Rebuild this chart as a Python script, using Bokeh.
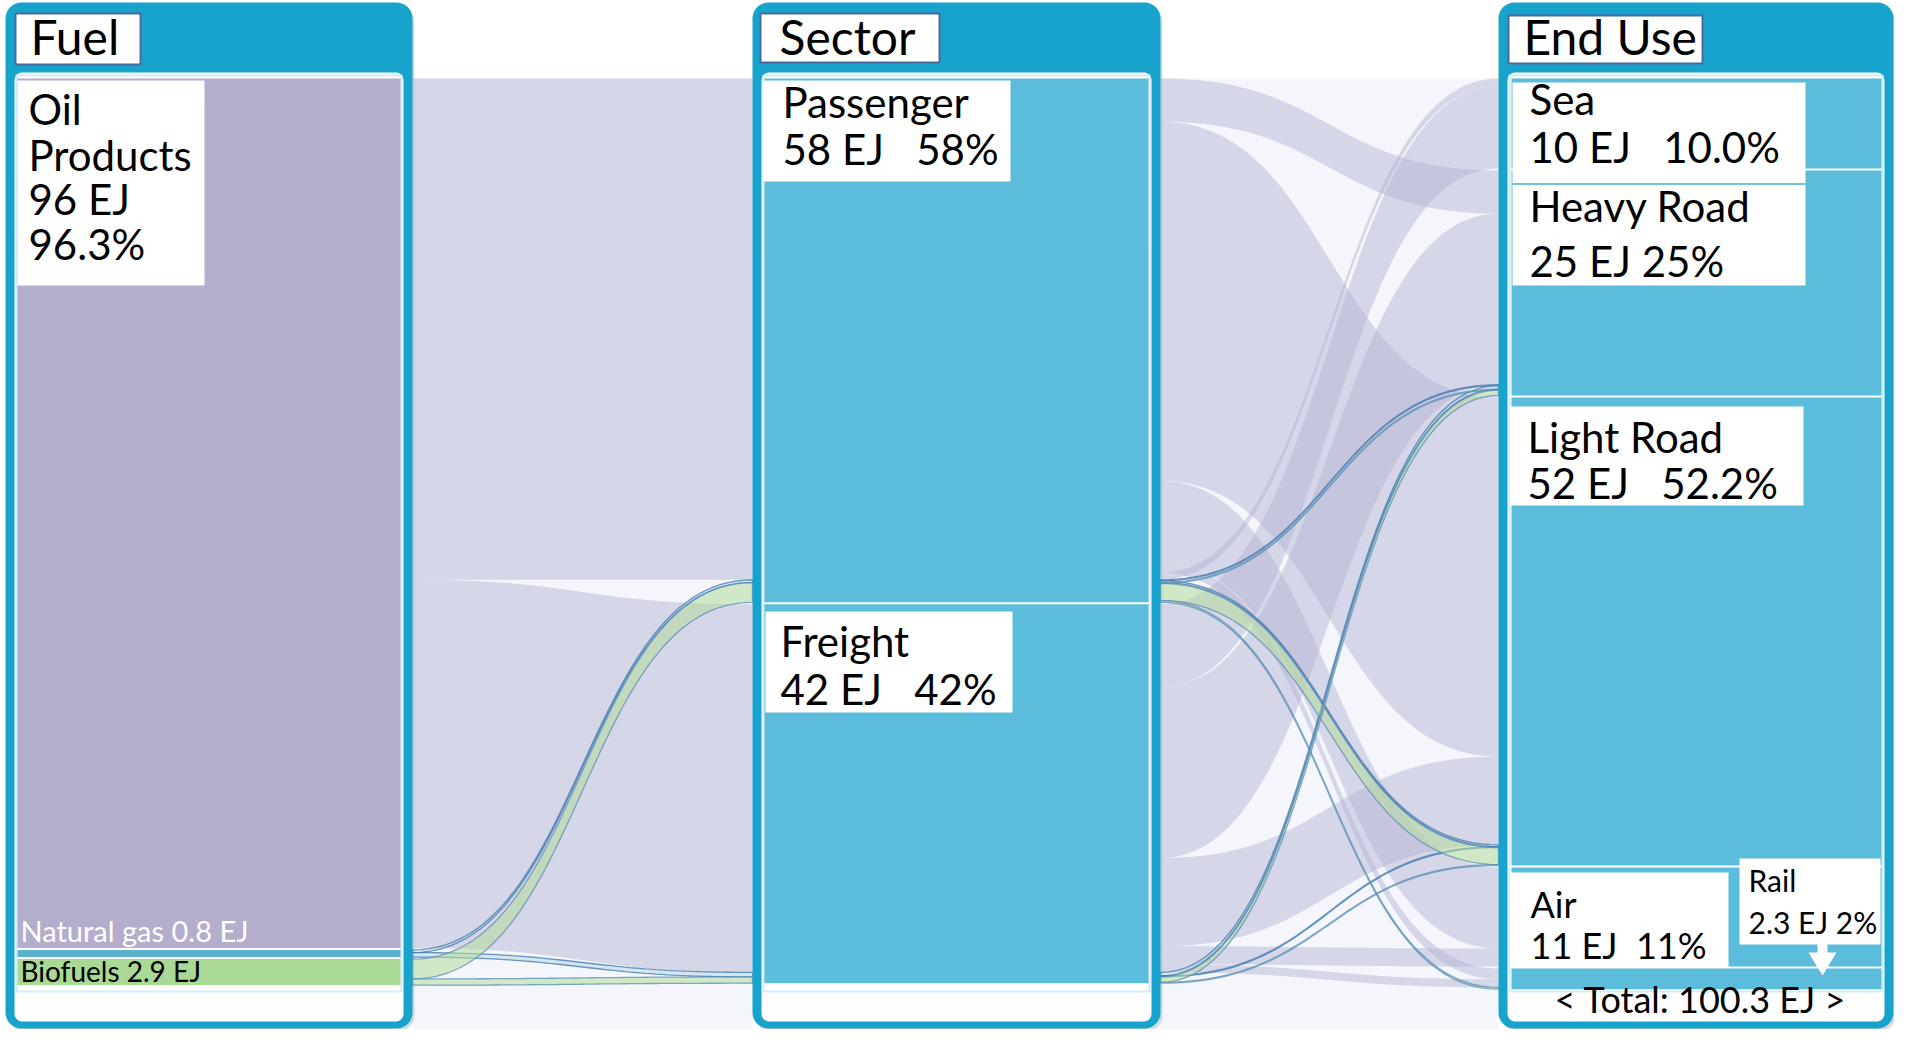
import numpy as np
from bokeh.plotting import figure
from bokeh.models import Range1d
from bokeh.core.properties import value
from bokeh.embed import file_html
from bokeh.resources import INLINE

# ---------------- data ----------------
fuels = ["Oil Products", "Natural gas", "Biofuels"]
fuel_ej = [96.6, 0.8, 2.9]
sectors = ["Passenger", "Freight"]
sector_ej = [58.2, 42.1]
end_uses = ["Sea", "Heavy Road", "Light Road", "Air", "Rail"]
end_use_ej = [10.0, 25.0, 52.0, 11.0, 2.3]

# fuel -> sector
flow1_fuel = ["Oil Products", "Oil Products", "Natural gas", "Natural gas", "Biofuels", "Biofuels"]
flow1_sector = ["Passenger", "Freight", "Passenger", "Freight", "Passenger", "Freight"]
flow1_ej = [55.7, 40.9, 0.3, 0.5, 2.2, 0.7]

# sector -> end use (traced by fuel)
flow2_fuel = ["Oil Products"] * 5 + ["Natural gas"] * 2 + ["Biofuels"] * 3 + \
             ["Oil Products"] * 5 + ["Natural gas"] * 2 + ["Biofuels"] * 2
flow2_sector = ["Passenger"] * 10 + ["Freight"] * 9
flow2_end = ["Sea", "Heavy Road", "Light Road", "Air", "Rail",
             "Heavy Road", "Light Road",
             "Heavy Road", "Light Road", "Rail",
             "Sea", "Heavy Road", "Light Road", "Air", "Rail",
             "Heavy Road", "Light Road",
             "Heavy Road", "Light Road"]
flow2_ej = [0.8, 4.8, 39.9, 9.0, 1.2,
            0.1, 0.2,
            0.1, 1.9, 0.2,
            9.2, 19.0, 9.8, 2.0, 0.9,
            0.4, 0.1,
            0.6, 0.1]

NB = "\u00a0"
column_titles = ["Fuel", "Sector", "End Use"]
oil_label = ["Oil", "Products", "96 EJ", "96.3%"]
gas_label = "Natural gas 0.8 EJ"
bio_label = "Biofuels 2.9 EJ"
passenger_label = ["Passenger", "58 EJ" + NB * 3 + "58%"]
freight_label = ["Freight", "42 EJ" + NB * 3 + "42%"]
sea_label = ["Sea", "10 EJ" + NB * 3 + "10.0%"]
heavy_label = ["Heavy Road", "25 EJ 25%"]
light_label = ["Light Road", "52 EJ" + NB * 3 + "52.2%"]
air_label = ["Air", "11 EJ" + NB * 2 + "11%"]
rail_label = ["Rail", "2.3 EJ 2%"]

# ---------------- layout / style ----------------
K = 9.0      # px per EJ
TOP = 78
GAP = 2
FONT = value("Lato")
W, H = 1894, 1029

PANEL_BLUE = "#17A3CB"
NODE_BLUE = "#5BBCDB"
fuel_node_color = {"Oil Products": "#B4ADCB", "Natural gas": "#5AB2CC", "Biofuels": "#A9D995"}
rib_fill = {"Oil Products": "#B6B6D4", "Natural gas": "#A8D4E4", "Biofuels": "#B4DC9C"}
rib_alpha = {"Oil Products": 0.51, "Natural gas": 0.45, "Biofuels": 0.55}
rib_line = {"Oil Products": None, "Natural gas": "#3C74AC", "Biofuels": "#5A8CB8"}

out_order = {"Passenger": ["Heavy Road", "Light Road", "Air", "Rail", "Sea"],
             "Freight": ["Sea", "Heavy Road", "Light Road", "Air", "Rail"]}


def stack(names, vals):
    pos = {}
    y = TOP
    for n, v in zip(names, vals):
        pos[n] = [y, y + v * K]
        y += v * K + GAP
    return pos


fuel_pos = stack(fuels, fuel_ej)
sector_pos = stack(sectors, sector_ej)
end_pos = stack(end_uses, end_use_ej)


def ribbon(x0, x1, a0, a1, b0, b1, n=60):
    t = np.linspace(0, 1, n)
    xm = (x0 + x1) / 2
    bx = (1 - t) ** 3 * x0 + 3 * (1 - t) ** 2 * t * xm + 3 * (1 - t) * t ** 2 * xm + t ** 3 * x1

    def by(ya, yb):
        return (1 - t) ** 3 * ya + 3 * (1 - t) ** 2 * t * ya + 3 * (1 - t) * t ** 2 * yb + t ** 3 * yb
    top = by(a0, b0)
    bot = by(a1, b1)
    return list(bx) + list(bx[::-1]), list(top) + list(bot[::-1])


def rrect(x0, y0, x1, y1, r, n=10):
    xs, ys = [], []
    for cx, cy, a in [(x1 - r, y0 + r, -np.pi / 2), (x1 - r, y1 - r, 0),
                      (x0 + r, y1 - r, np.pi / 2), (x0 + r, y0 + r, np.pi)]:
        for ang in np.linspace(a, a + np.pi / 2, n):
            xs.append(cx + r * np.cos(ang))
            ys.append(cy + r * np.sin(ang))
    return xs, ys


p = figure(width=W, height=H, x_range=Range1d(0, W), y_range=Range1d(H, 0),
           output_backend="svg", toolbar_location=None, x_axis_location=None,
           y_axis_location=None, min_border=0, outline_line_color=None,
           background_fill_color="white", border_fill_color="white")
p.grid.visible = False

PB = 1028  # panel bottom
# light background between panels
p.quad(left=[412, 1160], right=[752, 1498], top=[78, 78], bottom=[H, H],
       fill_color="#F4F6FB", line_color=None)

panels = [(5, 412), (752, 1160), (1498, 1893)]

# shadows
for (l, r) in panels:
    xs, ys = rrect(l + 3, 6, r + 2, PB + 3, 16)
    p.patch(xs, ys, fill_color="#7A8896", fill_alpha=0.3, line_color=None)


# ---------------- ribbons ----------------
def draw_ribbons(flows):
    for fuel in fuels:
        xs_all = [xs for (f, xs, ys) in flows if f == fuel]
        ys_all = [ys for (f, xs, ys) in flows if f == fuel]
        if not xs_all:
            continue
        lc = rib_line[fuel]
        if lc is None:
            p.patches(xs_all, ys_all, fill_color=rib_fill[fuel], fill_alpha=rib_alpha[fuel], line_color=None)
        else:
            p.patches(xs_all, ys_all, fill_color=rib_fill[fuel], fill_alpha=rib_alpha[fuel],
                      line_color=lc, line_alpha=0.75, line_width=1.3)


# stage 1
src_off = {f: fuel_pos[f][0] for f in fuels}
tgt_off = {s: sector_pos[s][0] for s in sectors}
src_y, tgt_y = {}, {}
idx1 = list(range(len(flow1_ej)))
for i in sorted(idx1, key=lambda i: (fuels.index(flow1_fuel[i]), sectors.index(flow1_sector[i]))):
    h = flow1_ej[i] * K
    f = flow1_fuel[i]
    src_y[i] = (src_off[f], src_off[f] + h)
    src_off[f] += h
for i in sorted(idx1, key=lambda i: (sectors.index(flow1_sector[i]), fuels.index(flow1_fuel[i]))):
    h = flow1_ej[i] * K
    s = flow1_sector[i]
    tgt_y[i] = (tgt_off[s], tgt_off[s] + h)
    tgt_off[s] += h
flows1 = []
for i in idx1:
    xs, ys = ribbon(412, 752, src_y[i][0], src_y[i][1], tgt_y[i][0], tgt_y[i][1])
    flows1.append((flow1_fuel[i], xs, ys))
draw_ribbons(flows1)

# stage 2
src_off = {s: sector_pos[s][0] for s in sectors}
tgt_off = {e: end_pos[e][0] for e in end_uses}
src_y, tgt_y = {}, {}
idx2 = list(range(len(flow2_ej)))
for i in sorted(idx2, key=lambda i: (sectors.index(flow2_sector[i]), fuels.index(flow2_fuel[i]),
                                     out_order[flow2_sector[i]].index(flow2_end[i]))):
    h = flow2_ej[i] * K
    s = flow2_sector[i]
    src_y[i] = (src_off[s], src_off[s] + h)
    src_off[s] += h
for i in sorted(idx2, key=lambda i: (end_uses.index(flow2_end[i]), fuels.index(flow2_fuel[i]),
                                     sectors.index(flow2_sector[i]))):
    h = flow2_ej[i] * K
    e = flow2_end[i]
    tgt_y[i] = (tgt_off[e], tgt_off[e] + h)
    tgt_off[e] += h
flows2 = []
for i in idx2:
    xs, ys = ribbon(1160, 1498, src_y[i][0], src_y[i][1], tgt_y[i][0], tgt_y[i][1])
    flows2.append((flow2_fuel[i], xs, ys))
draw_ribbons(flows2)

# ---------------- panels ----------------
for (l, r) in panels:
    xs, ys = rrect(l, 2, r, PB, 16)
    p.patch(xs, ys, fill_color=PANEL_BLUE, line_color=None)
    xs, ys = rrect(l + 9, 72, r - 9, PB - 7, 8)
    p.patch(xs, ys, fill_color="white", line_color=None)
    p.quad(left=[l + 11], right=[r - 11], top=[75], bottom=[991],
           fill_color=None, line_color="#D2ECF5", line_width=2)

# nodes
p.quad(left=[17] * 3, right=[400] * 3,
       top=[fuel_pos[f][0] for f in fuels], bottom=[fuel_pos[f][1] for f in fuels],
       fill_color=[fuel_node_color[f] for f in fuels], line_color=None)
p.quad(left=[764] * 2, right=[1148] * 2,
       top=[sector_pos[s][0] for s in sectors], bottom=[sector_pos[s][1] for s in sectors],
       fill_color=NODE_BLUE, line_color=None)
p.quad(left=[1511] * 5, right=[1881] * 5,
       top=[end_pos[e][0] for e in end_uses], bottom=[end_pos[e][1] for e in end_uses],
       fill_color=NODE_BLUE, line_color=None)


# ---------------- labels ----------------
def box(l, r, t, b, border=None):
    p.quad(left=[l], right=[r], top=[t], bottom=[b], fill_color="white",
           line_color=border, line_width=2 if border else 0)


def txt(x, base, s, size, color="black", align="left"):
    # renderer places the alphabetic baseline ~0.4 em below the anchor
    p.text(x=[x], y=[base - 0.4 * size], text=[s], text_font=FONT, text_font_size=f"{size}px",
           text_color=color, text_align=align, text_baseline="alphabetic")


# column headers
box(15, 140, 13, 64, "#4A6A9E")
txt(30, 55, column_titles[0], 48)
box(760, 939, 13, 62, "#4A6A9E")
txt(779, 55, column_titles[1], 48)
box(1508, 1702, 15, 63, "#4A6A9E")
txt(1523, 55, column_titles[2], 48)

# fuel
box(17, 204, 80, 285)
for s, yb in zip(oil_label, [125, 171, 215, 260]):
    txt(28, yb, s, 42)
txt(20, 942, gas_label, 29, color="white")
txt(20, 982, bio_label, 28)

# sector
box(763, 1010, 80, 181)
txt(782, 118, passenger_label[0], 42)
txt(782, 165, passenger_label[1], 42)
box(765, 1012, 611, 712)
txt(780, 657, freight_label[0], 42)
txt(780, 705, freight_label[1], 42)

# end use
box(1512, 1805, 82, 183)
txt(1529, 115, sea_label[0], 42)
txt(1529, 163, sea_label[1], 42)
box(1512, 1805, 184, 285)
p.segment(x0=[1512], y0=[183.5], x1=[1805], y1=[183.5], line_color=NODE_BLUE, line_width=1.5)
txt(1529, 222, heavy_label[0], 42)
txt(1529, 277, heavy_label[1], 42)
box(1510, 1803, 406, 505)
txt(1527, 453, light_label[0], 42)
txt(1527, 499, light_label[1], 42)
box(1510, 1728, 872, 967)
txt(1530, 918, air_label[0], 36)
txt(1530, 959, air_label[1], 36)
box(1739, 1880, 858, 944)
txt(1748, 891, rail_label[0], 30)
txt(1748, 933, rail_label[1], 30)
# arrow to rail node
p.patch([1817, 1827, 1827, 1836, 1822, 1808, 1817], [943, 943, 952, 952, 975, 952, 952],
        fill_color="white", line_color=None)

total = sum(end_use_ej)
txt(1700, 1013, f"< Total: {total:.1f} EJ >", 36, align="center")

open("out.html", "w").write(file_html(p, INLINE))
